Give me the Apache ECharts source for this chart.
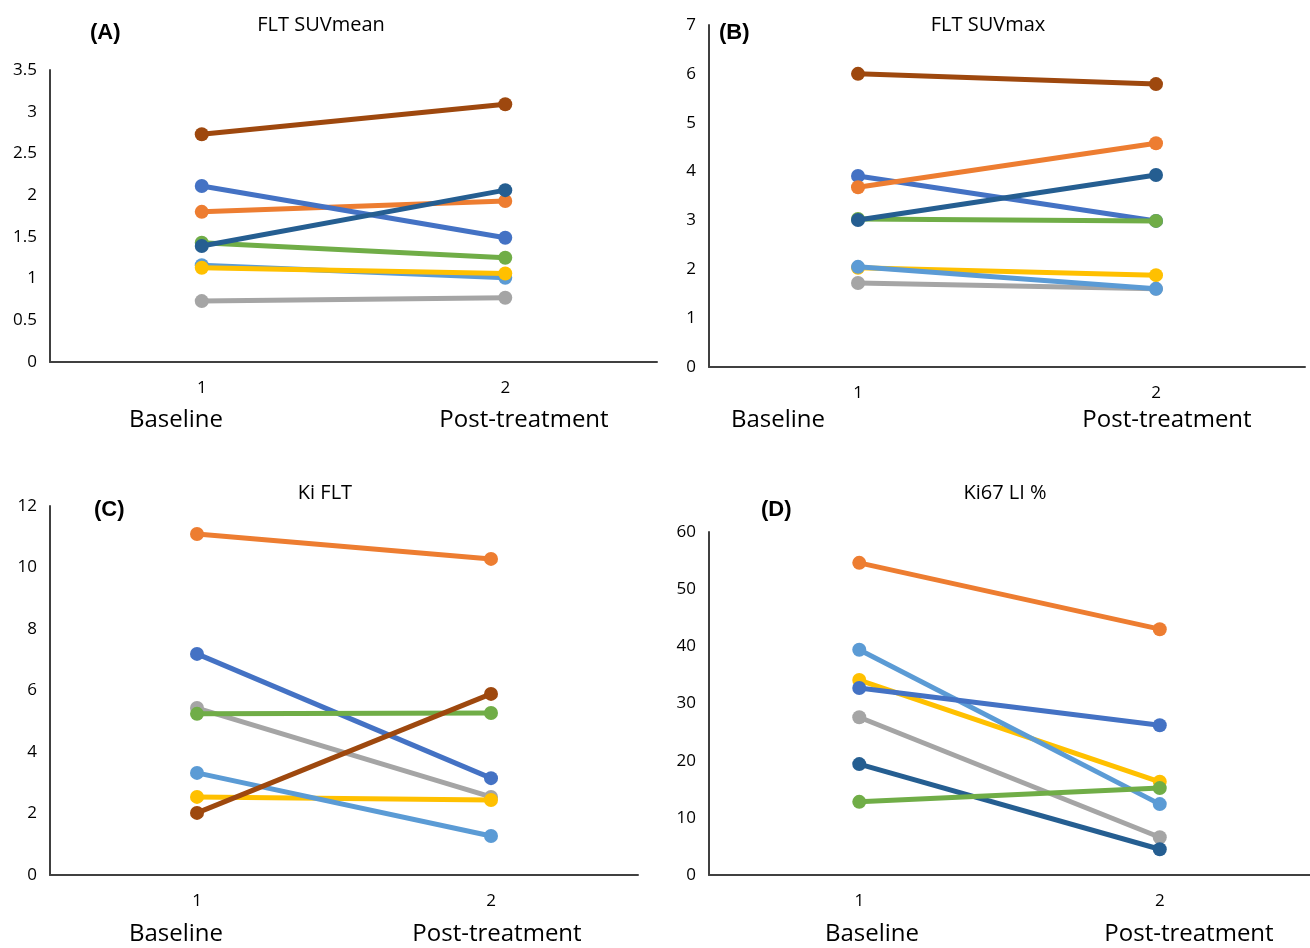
<!DOCTYPE html>
<html>
<head>
<meta charset="utf-8">
<script src="https://cdn.jsdelivr.net/npm/echarts@6/dist/echarts.min.js"></script>
<style>
  html, body { margin: 0; padding: 0; background: #fff; }
  #chart { width: 1310px; height: 948px; }
</style>
</head>
<body>
<div id="chart"></div>
<script>
// x categories (time points)
var categories = ['1', '2']
var stageNames = ['Baseline', 'Post-treatment']

// patient colours (Excel palette)
var palette = {
  blue: '#4472C4',
  orange: '#ED7D31',
  gray: '#A5A5A5',
  gold: '#FFC000',
  lightBlue: '#5B9BD5',
  green: '#70AD47',
  darkBlue: '#255E91',
  brown: '#9E480E'
}

// (A) FLT SUVmean  - drawing order bottom -> top
var suvMeanKeys = ['gray', 'lightBlue', 'gold', 'green', 'orange', 'blue', 'darkBlue', 'brown']
var suvMeanBaseline = [0.73, 1.16, 1.13, 1.43, 1.80, 2.11, 1.39, 2.73]
var suvMeanPost = [0.77, 1.01, 1.06, 1.25, 1.93, 1.49, 2.06, 3.09]

// (B) FLT SUVmax
var suvMaxKeys = ['gray', 'gold', 'lightBlue', 'blue', 'green', 'darkBlue', 'orange', 'brown']
var suvMaxBaseline = [1.72, 2.03, 2.05, 3.91, 3.03, 3.01, 3.68, 6.00]
var suvMaxPost = [1.60, 1.88, 1.60, 2.99, 2.99, 3.93, 4.58, 5.79]

// (C) Ki FLT
var kiKeys = ['gray', 'gold', 'lightBlue', 'blue', 'green', 'orange', 'brown']
var kiBaseline = [5.43, 2.54, 3.32, 7.19, 5.24, 11.09, 2.02]
var kiPost = [2.54, 2.44, 1.27, 3.15, 5.27, 10.28, 5.89]

// (D) Ki67 LI %
var ki67Keys = ['gray', 'gold', 'lightBlue', 'blue', 'darkBlue', 'green', 'orange']
var ki67Baseline = [27.6, 34.1, 39.4, 32.7, 19.4, 12.8, 54.6]
var ki67Post = [6.6, 16.3, 12.4, 26.2, 4.5, 15.2, 43.0]

var font = '"Open Sans", sans-serif'

var panels = [
  { title: 'FLT SUVmean', tag: '(A)', keys: suvMeanKeys, base: suvMeanBaseline, post: suvMeanPost,
    grid: { left: 50, top: 70, width: 607, height: 292 }, max: 3.5, interval: 0.5,
    titlePos: [316, 10], tagPos: [90, 22], stagePos: [[176, 408], [524, 408]] },
  { title: 'FLT SUVmax', tag: '(B)', keys: suvMaxKeys, base: suvMaxBaseline, post: suvMaxPost,
    grid: { left: 709, top: 25, width: 596, height: 342 }, max: 7, interval: 1,
    titlePos: [983, 10], tagPos: [719, 22], stagePos: [[778, 408], [1167, 408]] },
  { title: 'Ki FLT', tag: '(C)', keys: kiKeys, base: kiBaseline, post: kiPost,
    grid: { left: 50, top: 506, width: 588, height: 369 }, max: 12, interval: 2,
    titlePos: [320, 478], tagPos: [94, 499], stagePos: [[176, 922], [497, 922]] },
  { title: 'Ki67 LI %', tag: '(D)', keys: ki67Keys, base: ki67Baseline, post: ki67Post,
    grid: { left: 709, top: 532, width: 601, height: 343 }, max: 60, interval: 10,
    titlePos: [1000, 478], tagPos: [761, 499], stagePos: [[872, 922], [1189, 922]] }
]

var option = {
  animation: false,
  textStyle: { fontFamily: font },
  title: [],
  grid: [],
  xAxis: [],
  yAxis: [],
  series: [],
  graphic: []
}

panels.forEach(function (p, i) {
  option.grid.push(p.grid)
  option.title.push({
    text: p.title,
    left: p.titlePos[0],
    top: p.titlePos[1],
    textAlign: 'center',
    textStyle: { fontFamily: font, fontSize: 20, fontWeight: 'normal', color: '#000' }
  })
  option.graphic.push({
    type: 'text',
    left: p.tagPos[0],
    top: p.tagPos[1],
    style: { text: p.tag, font: 'bold 22px "Liberation Sans", Arial, sans-serif', fill: '#000' }
  })
  p.stagePos.forEach(function (pos, k) {
    option.graphic.push({
      type: 'text',
      x: pos[0],
      y: pos[1],
      style: {
        text: stageNames[k],
        font: '24px ' + font,
        fill: '#000',
        textAlign: 'center'
      }
    })
  })
  option.xAxis.push({
    type: 'category',
    gridIndex: i,
    data: categories,
    boundaryGap: true,
    axisLine: { show: true, lineStyle: { color: '#404040', width: 2 } },
    axisTick: { show: false },
    axisLabel: { fontSize: 17, color: '#000', margin: 18, fontFamily: font },
    splitLine: { show: false }
  })
  option.yAxis.push({
    type: 'value',
    gridIndex: i,
    min: 0,
    max: p.max,
    interval: p.interval,
    axisLine: { show: true, lineStyle: { color: '#404040', width: 2 } },
    axisTick: { show: false },
    axisLabel: { fontSize: 17, color: '#000', margin: 13, fontFamily: font },
    splitLine: { show: false }
  })
  p.keys.forEach(function (key, j) {
    option.series.push({
      type: 'line',
      name: key,
      xAxisIndex: i,
      yAxisIndex: i,
      data: [p.base[j], p.post[j]],
      symbol: 'circle',
      symbolSize: 14,
      lineStyle: { width: 5, color: palette[key] },
      itemStyle: { color: palette[key] },
      z: 2 + j
    })
  })
})

var myChart = echarts.init(document.getElementById('chart'))
option && myChart.setOption(option)
</script>
</body>
</html>
